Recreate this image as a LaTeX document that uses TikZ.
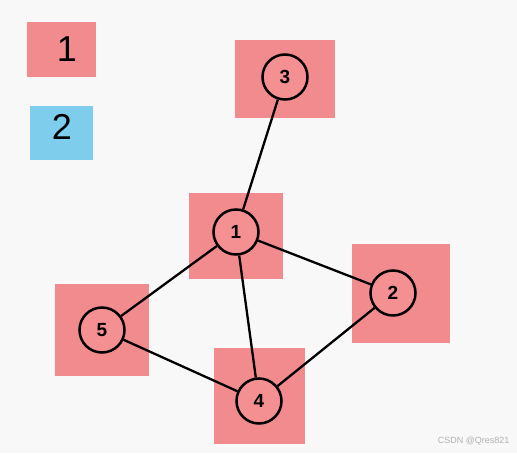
\documentclass[tikz,border=0pt]{standalone}
\usepackage{fontspec}
\setmainfont{Liberation Sans}
\usepackage{tikz}
\usetikzlibrary{positioning, calc}
\usepackage{xcolor}
\definecolor{pinkbox}{HTML}{F28B8E}
\definecolor{pinkcirc}{HTML}{F48F92}
\definecolor{bluebox}{HTML}{7FCDEC}
\definecolor{pagebg}{HTML}{F8F8F8}
\tikzset{
    vbox/.style={fill=pinkbox, inner sep=0pt},
    vert/.style={circle, draw=black, fill=pinkcirc, line width=2.5pt, minimum size=45pt, inner sep=0pt, font=\fontsize{19}{19}\selectfont\bfseries},
    edge/.style={draw=black, line width=2.3pt},
    legbox/.style={inner sep=0pt, font=\fontsize{36}{36}\selectfont}
}

\begin{document}
\begin{tikzpicture}[x=1pt, y=-1pt]
    \fill[pagebg] (0,0) rectangle (517,453);
    \useasboundingbox (0,0) rectangle (517,453);

    % legend
    \node[legbox, fill=pinkbox, minimum width=69pt, minimum height=55pt] (leg1) at (61.5,49.5) {};
    \node at (67,49) {\fontsize{36}{36}\selectfont 1};
    \node[legbox, fill=bluebox, minimum width=63pt, minimum height=54pt] (leg2) at (61.5,133) {};
    \node at (62,127) {\fontsize{36}{36}\selectfont 2};

    % squares behind the vertices
    \node[vbox, minimum width=100pt, minimum height=78pt] (sq3) at (285,79) {};
    \node[vbox, minimum width=94pt, minimum height=86pt] (sq1) at (236,236) {};
    \node[vbox, minimum width=98pt, minimum height=99pt] (sq2) at (401,293.5) {};
    \node[vbox, minimum width=94pt, minimum height=92pt] (sq5) at (102,330) {};
    \node[vbox, minimum width=91pt, minimum height=96pt] (sq4) at (259.5,396) {};

    % vertices
    \node[vert] (v3) at (285,77) {3};
    \node[vert] (v1) at (236,232) {1};
    \node[vert] (v2) at (393,293) {2};
    \node[vert] (v5) at (102,330) {5};
    \node[vert] (v4) at (259,401) {4};

    % edges
    \draw[edge] (v3) -- (v1);
    \draw[edge] (v1) -- (v2);
    \draw[edge] (v1) -- (v4);
    \draw[edge] (v1) -- (v5);
    \draw[edge] (v5) -- (v4);
    \draw[edge] (v4) -- (v2);

    \node[text=black!30, font=\fontsize{9}{9}\selectfont, anchor=east] (mark) at (513,441) {CSDN @Qres821};
\end{tikzpicture}
\end{document}
